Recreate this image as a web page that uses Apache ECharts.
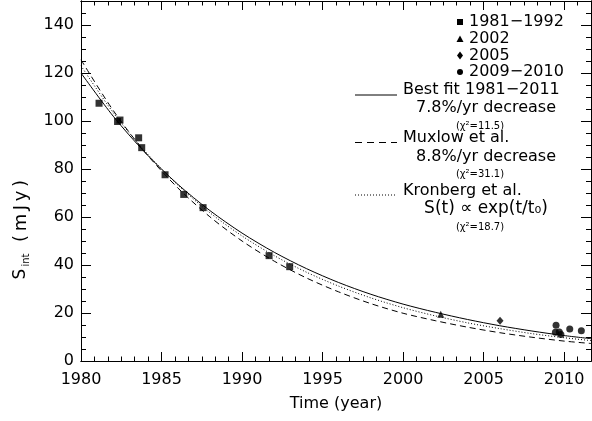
<!DOCTYPE html>
<html>
<head>
<meta charset="utf-8">
<script src="https://cdn.jsdelivr.net/npm/echarts@6/dist/echarts.min.js"></script>
<style>
html,body{margin:0;padding:0;background:#fff;}
#chart{width:592px;height:421px;}
</style>
</head>
<body>
<div id="chart"></div>
<script>
// ---- data ----
const squareYears = [1981.12, 1982.27, 1982.42, 1983.58, 1983.77, 1985.22, 1986.38, 1987.58, 1991.68, 1992.96];
const squareFlux  = [107.4, 99.8, 100.4, 93.0, 88.9, 77.6, 69.4, 63.9, 43.9, 39.3];
const triangleYears = [2002.34];
const triangleFlux  = [19.5];
const diamondYears = [2006.02];
const diamondFlux  = [16.8];
const circleYears = [2009.50, 2009.46, 2009.70, 2009.80, 2010.35, 2011.07];
const circleFlux  = [14.9, 12.0, 12.1, 11.0, 13.3, 12.6];

const curveYears = [1980, 1982, 1984, 1986, 1988, 1990, 1992, 1994, 1996, 1998, 2000, 2002, 2004, 2006, 2008, 2010, 2011.67];
const bestFit  = [120, 102.0, 86.7, 73.7, 62.7, 53.3, 45.3, 38.5, 32.7, 27.8, 23.7, 20.3, 17.3, 14.7, 12.5, 10.6, 9.3];
const muxlow   = [125.5, 104.4, 86.8, 72.2, 60.1, 50.0, 41.6, 34.6, 28.8, 23.9, 19.9, 16.8, 14.1, 11.8, 9.9, 8.3, 7.3];
const kronberg = [123, 103.5, 87.2, 73.4, 61.8, 52.1, 43.9, 37.0, 31.2, 26.3, 22.2, 18.8, 15.9, 13.5, 11.4, 9.7, 8.5];

const xMin = 1980, xMax = 2011.67, xMajor = 5, xMinor = 5 / 6;
const yMin = 0, yMax = 150, yMajor = 20, yMinor = 5;

const legendRows = ['1981\u22121992', '2002', '2005', '2009\u22122010'];

const pairs = (xs, ys) => xs.map((x, i) => [x, ys[i]]);

const FONT = 'DejaVu Sans';
const INK = '#000';

function xAx(pos, interval, len, labels) {
  return {
    type: 'value', gridIndex: 0, position: pos, min: xMin, max: xMax, interval: interval,
    axisLine: { show: true, onZero: false, lineStyle: { color: INK, width: 1 } },
    axisTick: { show: true, inside: true, length: len, lineStyle: { color: INK, width: 1 } },
    axisLabel: labels ? { show: true, color: INK, fontFamily: FONT, fontSize: 16, margin: 11,
                          showMaxLabel: false, formatter: v => String(v) } : { show: false },
    splitLine: { show: false },
    name: labels ? 'Time (year)' : '',
    nameLocation: 'middle', nameGap: 35,
    nameTextStyle: { color: INK, fontFamily: FONT, fontSize: 16 }
  };
}
function yAx(pos, interval, len, labels) {
  return {
    type: 'value', gridIndex: 0, position: pos, min: yMin, max: yMax, interval: interval,
    axisLine: { show: true, onZero: false, lineStyle: { color: INK, width: 1 } },
    axisTick: { show: true, inside: true, length: len, lineStyle: { color: INK, width: 1 } },
    axisLabel: labels ? { show: true, color: INK, fontFamily: FONT, fontSize: 16, margin: 7,
                          showMaxLabel: false, formatter: v => String(v) } : { show: false },
    splitLine: { show: false }
  };
}

function txt(text, x, y, size, align) {
  return {
    type: 'text', x: x, y: y, silent: true,
    style: { text: text, fill: INK, fontFamily: FONT, fontSize: size,
             align: align || 'left', textAlign: align || 'left',
             verticalAlign: 'middle', textVerticalAlign: 'middle' }
  };
}
function sampleLine(y, dash) {
  return { type: 'line', silent: true,
    shape: { x1: 355, y1: y, x2: 397, y2: y },
    style: { stroke: INK, lineWidth: 1, lineDash: dash } };
}

const legendY = [22, 39, 55.5, 72];
const graphics = [];
legendRows.forEach((t, i) => graphics.push(txt(t, 469, legendY[i], 16, 'left')));
graphics.push({ type: 'rect', silent: true, shape: { x: 457, y: legendY[0] - 3, width: 6, height: 6 }, style: { fill: INK } });
graphics.push({ type: 'polygon', silent: true, shape: { points: [[460, legendY[1] - 3.5], [463.5, legendY[1] + 3], [456.5, legendY[1] + 3]] }, style: { fill: INK } });
graphics.push({ type: 'polygon', silent: true, shape: { points: [[460, legendY[2] - 4], [463, legendY[2]], [460, legendY[2] + 4], [457, legendY[2]]] }, style: { fill: INK } });
graphics.push({ type: 'circle', silent: true, shape: { cx: 460, cy: legendY[3], r: 3 }, style: { fill: INK } });

graphics.push(sampleLine(95, null));
graphics.push(txt('Best fit 1981\u22122011', 403, 90, 16));
graphics.push(txt('7.8%/yr decrease', 486, 108, 16, 'center'));
graphics.push(txt('(\u03c7\u00b2=11.5)', 480, 126.5, 10, 'center'));
graphics.push(sampleLine(142.5, [7, 5]));
graphics.push(txt('Muxlow et al.', 403, 137.5, 16));
graphics.push(txt('8.8%/yr decrease', 486, 157, 16, 'center'));
graphics.push(txt('(\u03c7\u00b2=31.1)', 480, 174, 10, 'center'));
graphics.push(sampleLine(195, [1, 2]));
graphics.push(txt('Kronberg et al.', 403, 191, 16));
graphics.push(txt('S(t) \u221d exp(t/t\u2080)', 486, 208.5, 17, 'center'));
graphics.push(txt('(\u03c7\u00b2=18.7)', 480, 227, 10, 'center'));

function rtxt(text, x, y, size) {
  return { type: 'text', x: x, y: y, rotation: Math.PI / 2, silent: true,
    style: { text: text, fill: INK, fontFamily: FONT, fontSize: size,
             align: 'center', textAlign: 'center', verticalAlign: 'middle', textVerticalAlign: 'middle' } };
}
graphics.push(rtxt('S', 21, 274, 17));
graphics.push(rtxt('int', 26, 260, 10));
graphics.push(rtxt('(\u2009m\u2009J\u2009y\u2009)', 21, 211, 18));

const chart = echarts.init(document.getElementById('chart'), null, { renderer: 'canvas' });
chart.setOption({
  animation: false,
  backgroundColor: '#fff',
  grid: { left: 81, right: 1, top: 1, bottom: 60, containLabel: false },
  xAxis: [
    xAx('bottom', xMajor, 9, true),
    xAx('bottom', xMinor, 4.5, false),
    xAx('top', xMajor, 9, false),
    xAx('top', xMinor, 4.5, false)
  ],
  yAxis: [
    yAx('left', yMajor, 10, true),
    yAx('left', yMinor, 5, false),
    yAx('right', yMajor, 10, false),
    yAx('right', yMinor, 5, false)
  ],
  graphic: graphics,
  series: [
    { type: 'line', name: 'Best fit', data: pairs(curveYears, bestFit), smooth: 0.3, showSymbol: false,
      lineStyle: { color: INK, width: 1 }, silent: true, z: 3 },
    { type: 'line', name: 'Muxlow', data: pairs(curveYears, muxlow), smooth: 0.3, showSymbol: false,
      lineStyle: { color: INK, width: 1, type: [6, 4] }, silent: true, z: 3 },
    { type: 'line', name: 'Kronberg', data: pairs(curveYears, kronberg), smooth: 0.3, showSymbol: false,
      lineStyle: { color: INK, width: 1, type: [1, 2] }, silent: true, z: 3 },
    { type: 'scatter', data: pairs(squareYears, squareFlux), symbol: 'rect', symbolSize: 7,
      itemStyle: { color: INK }, silent: true, z: 4 },
    { type: 'scatter', data: pairs(triangleYears, triangleFlux), symbol: 'triangle', symbolSize: 7,
      itemStyle: { color: INK }, silent: true, z: 4 },
    { type: 'scatter', data: pairs(diamondYears, diamondFlux), symbol: 'diamond', symbolSize: [7, 8],
      itemStyle: { color: INK }, silent: true, z: 4 },
    { type: 'scatter', data: pairs(circleYears, circleFlux), symbol: 'circle', symbolSize: 7,
      itemStyle: { color: INK }, silent: true, z: 4 }
  ]
});
</script>
</body>
</html>
